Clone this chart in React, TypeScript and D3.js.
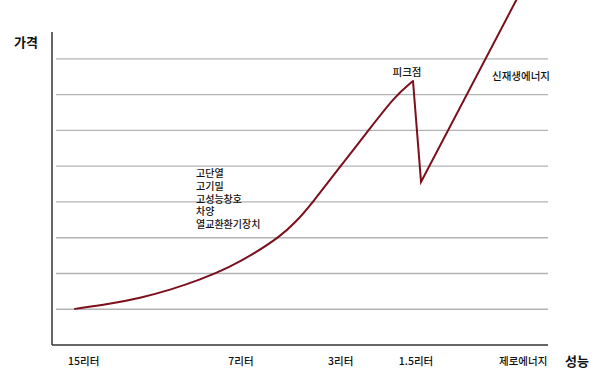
import React from "react";
import * as d3 from "d3";

// Performance axis categories and where each sits on the 0–100 performance scale
const categories = ["15리터", "7리터", "3리터", "1.5리터", "제로에너지"];
const categoryPos = [6.4, 38.1, 58.2, 73.4, 95.0];

// Price curve: steady rise to the peak (x = performance, y = price)
const riseX = [4.64, 11.69, 17.74, 23.79, 29.84, 35.89, 40.93, 45.97, 49.19, 52.42, 57.66, 63.71, 69.15, 72.78];
const riseY = [1.01, 1.15, 1.31, 1.54, 1.82, 2.18, 2.57, 3.03, 3.44, 3.96, 4.91, 5.98, 6.96, 7.38];

// After the peak: sharp drop, then a straight climb toward renewables
const afterX = [72.78, 74.4, 94.2];
const afterY = [7.38, 4.56, 9.8];

// Horizontal grid levels
const gridLevels = [1, 2, 3, 4, 5, 6, 7, 8];

// Measures listed next to the curve
const measures = ["고단열", "고기밀", "고성능창호", "차양", "열교환환기장치"];

const W = 600;
const H = 388;
const FONT = "'Noto Sans CJK KR', 'Noto Sans', sans-serif";

export default function App() {
  const x = d3.scaleLinear().domain([0, 100]).range([52, 548]);
  const y = d3.scaleLinear().domain([0, 8.75]).range([345, 32]);

  const rise = d3
    .line<number>()
    .x((_, i) => x(riseX[i]))
    .y((_, i) => y(riseY[i]))
    .curve(d3.curveBasis)(riseX);

  const after = d3
    .line<number>()
    .x((_, i) => x(afterX[i]))
    .y((_, i) => y(afterY[i]))(afterX);

  const lineColor = "#7b0f1c";

  return (
    <svg
      width={W}
      height={H}
      style={{ position: "absolute", left: 0, top: 0, background: "#fff" }}
      fontFamily={FONT}
    >
      {gridLevels.map((g) => (
        <line
          key={g}
          x1={x(0.8)}
          x2={x(100)}
          y1={y(g)}
          y2={y(g)}
          stroke="#b3b3b3"
          strokeWidth={1.4}
        />
      ))}

      {/* axes */}
      <line x1={x(0)} x2={x(0)} y1={y(8.75)} y2={y(0)} stroke="#333" strokeWidth={1.5} />
      <line x1={x(0)} x2={x(100)} y1={y(0)} y2={y(0)} stroke="#333" strokeWidth={1.5} />

      <path d={rise ?? ""} fill="none" stroke={lineColor} strokeWidth={2} strokeLinecap="round" />
      <path d={after ?? ""} fill="none" stroke={lineColor} strokeWidth={2} strokeLinejoin="miter" />

      {categories.map((c, i) => (
        <text
          key={c}
          x={x(categoryPos[i])}
          y={365}
          textAnchor="middle"
          fontSize={10.5}
          fontWeight={500}
          fill="#111"
        >
          {c}
        </text>
      ))}

      <text x={14} y={47} fontSize={13} fontWeight="bold" fill="#111">
        가격
      </text>
      <text x={565} y={366} fontSize={13} fontWeight="bold" fill="#111">
        성능
      </text>

      <text x={407} y={76} textAnchor="middle" fontSize={10.5} fontWeight={500} fill="#111">
        피크점
      </text>
      <text x={492} y={80} fontSize={10.5} fontWeight={500} fill="#111">
        신재생에너지
      </text>

      {measures.map((m, i) => (
        <text key={m} x={196} y={177 + i * 12.8} fontSize={10} fontWeight={500} fill="#111">
          {m}
        </text>
      ))}
    </svg>
  );
}
